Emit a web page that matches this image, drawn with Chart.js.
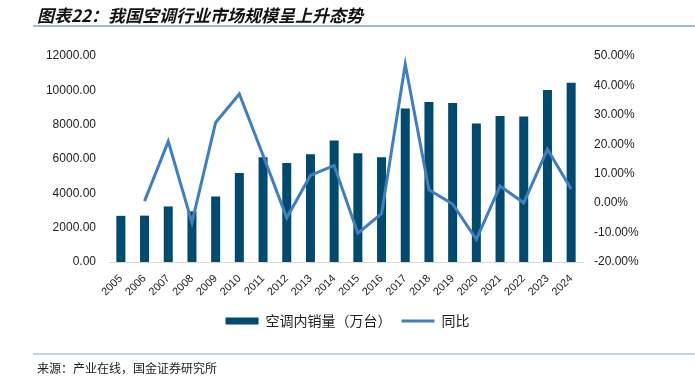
<!DOCTYPE html>
<html>
<head>
<meta charset="utf-8">
<script src="https://cdn.jsdelivr.net/npm/chart.js@4.4.1/dist/chart.umd.min.js"></script>
<style>
  html, body { margin: 0; padding: 0; background: #fff; }
  #wrap { position: relative; width: 695px; height: 381px; overflow: hidden; }
  #title { position: absolute; left: 37px; top: 2px; font: italic bold 17px "Noto Sans CJK SC", sans-serif; color: #111; white-space: nowrap; }
  #topline { position: absolute; left: 33px; top: 25px; width: 662px; height: 2px; background: #A3BBCE; }
  #botline { position: absolute; left: 33px; top: 353px; width: 662px; height: 2px; background: #C5D4E0; }
  #source { position: absolute; left: 37px; top: 359px; font: 12px "Noto Sans CJK SC", sans-serif; color: #222; white-space: nowrap; }
  canvas { position: absolute; left: 0; top: 0; }
</style>
</head>
<body>
<div id="wrap">
  <canvas id="c" width="695" height="381"></canvas>
  <div id="title">图表22：我国空调行业市场规模呈上升态势</div>
  <div id="topline"></div>
  <div id="botline"></div>
  <div id="source">来源：产业在线，国金证券研究所</div>
</div>
<script>
const years = ['2005','2006','2007','2008','2009','2010','2011','2012','2013','2014','2015','2016','2017','2018','2019','2020','2021','2022','2023','2024'];
const sales = [2690, 2700, 3235, 2950, 3815, 5188, 6098, 5768, 6272, 7084, 6330, 6098, 8939, 9322, 9264, 8070, 8510, 8475, 10017, 10446];
const yoy = [null, 0.7, 21.0, -6.6, 27.4, 37.1, 16.3, -5.0, 9.4, 12.8, -10.2, -3.6, 47.2, 4.5, -0.3, -12.3, 5.8, 0.1, 18.3, 4.8];
const seriesNames = ['空调内销量（万台）', '同比'];

const tickFont = { family: '"Liberation Sans", Arial, sans-serif', size: 12 };

new Chart(document.getElementById('c'), {
  data: {
    labels: years,
    datasets: [
      {
        type: 'bar',
        label: seriesNames[0],
        data: sales,
        yAxisID: 'y',
        backgroundColor: '#00496F',
        categoryPercentage: 1,
        barPercentage: 0.38,
        order: 2
      },
      {
        type: 'line',
        label: seriesNames[1],
        data: yoy,
        yAxisID: 'y1',
        borderColor: '#3F7FC0',
        backgroundColor: '#3F7FC0',
        borderWidth: 3,
        pointRadius: 0,
        tension: 0,
        order: 1
      }
    ]
  },
  options: {
    responsive: false,
    animation: false,
    layout: { padding: { top: 56, bottom: 43, left: 0, right: 0 } },
    plugins: {
      tooltip: { enabled: false },
      legend: {
        position: 'bottom',
        labels: {
          font: { family: '"Noto Sans CJK SC", sans-serif', size: 14 },
          color: '#222',
          usePointStyle: true,
          pointStyleWidth: 33,
          boxHeight: 7,
          padding: 10,
          sort: (a, b) => a.datasetIndex - b.datasetIndex,
          generateLabels(chart) {
            const items = Chart.defaults.plugins.legend.labels.generateLabels(chart);
            items.forEach(it => {
              if (it.datasetIndex === 0) { it.pointStyle = 'rect'; it.lineWidth = 0; it.fillStyle = '#00496F'; }
              else { it.pointStyle = 'line'; it.lineWidth = 3; it.strokeStyle = '#3F7FC0'; }
            });
            return items;
          }
        }
      }
    },
    scales: {
      x: {
        grid: { display: false },
        border: { display: true, color: '#D9D9D9', width: 1 },
        ticks: { font: { family: '"Liberation Sans", Arial, sans-serif', size: 11 }, color: '#222', minRotation: 45, maxRotation: 45, padding: 2 },
        afterFit(s) { s.height = 42; }
      },
      y: {
        position: 'left',
        min: 0, max: 12000,
        grid: { display: false },
        border: { display: false },
        ticks: { stepSize: 2000, font: tickFont, color: '#222', padding: 5, callback: v => Number(v).toFixed(2) },
        afterFit(s) { s.width = 109; }
      },
      y1: {
        position: 'right',
        min: -20, max: 50,
        grid: { display: false },
        border: { display: false },
        ticks: { stepSize: 10, font: tickFont, color: '#222', padding: 3, callback: v => Number(v).toFixed(2) + '%' },
        afterFit(s) { s.width = 112; }
      }
    }
  }
});
</script>
</body>
</html>
